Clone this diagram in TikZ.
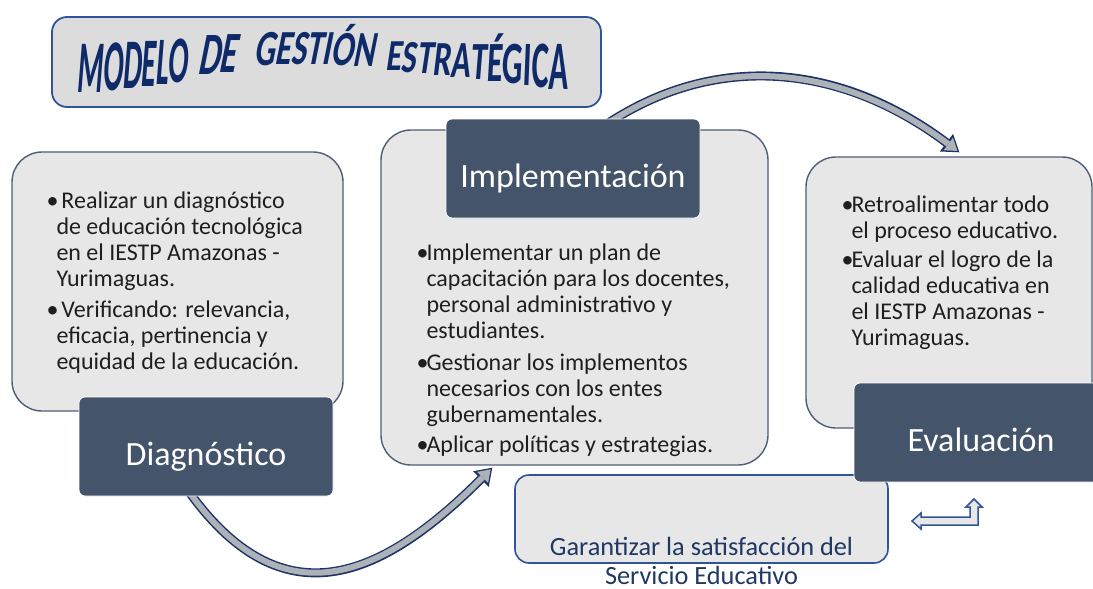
\documentclass[tikz,border=0pt]{standalone}
\usepackage{fontspec}
\setmainfont{Carlito}
\usetikzlibrary{arrows.meta,backgrounds}

\definecolor{headfill}{HTML}{44546A}
\definecolor{boxfill}{HTML}{E7E7E7}
\definecolor{boxline}{HTML}{4F5D75}
\definecolor{titlefill}{HTML}{DCDCDC}
\definecolor{blueline}{HTML}{2F5597}
\definecolor{navy}{HTML}{0F2A68}
\definecolor{goalblue}{HTML}{1F3864}
\definecolor{arcfill}{HTML}{ADB1B8}
\definecolor{arcline}{HTML}{1B3366}

% one bullet line, and a line that carries on the bullet
\newcommand{\bitem}[1]{\hbox{\makebox[10pt][l]{\textbullet}#1}}
\newcommand{\bcont}[1]{\hbox{\hspace*{10pt}#1}}

\begin{document}
\begin{tikzpicture}[x=1pt, y=-1pt,
    card/.style={draw=boxline, line width=1.4pt, fill=boxfill, rounded corners=30pt, inner sep=0pt},
    stage/.style={draw=white, line width=0.8pt, fill=headfill, rounded corners=6pt, text=white,
      font=\fontsize{34}{40}\selectfont, minimum width=254pt, minimum height=99pt,
      inner sep=0pt, text height=68pt, text depth=31pt},
    bullets/.style={anchor=base west, inner sep=0pt, text=black!88, font=\fontsize{24}{26}\selectfont},
    letter/.style={anchor=base west, inner sep=0pt, text=navy, font=\fontsize{40}{40}\selectfont\bfseries},
    arcout/.style={draw=arcline, line width=9pt, -{Triangle[length=16pt, width=22pt, line width=0pt]}},
    arcin/.style={draw=arcfill, line width=6pt, shorten >=2.3pt, -{Triangle[length=11.5pt, width=15.8pt, line width=0pt]}}]
  \useasboundingbox (0,0) rectangle (1093,589);
  \clip (0,0) rectangle (1093,589);

  % title
  \node[draw=blueline, line width=1.8pt, fill=titlefill, rounded corners=15pt,
    minimum width=549pt, minimum height=90pt] (titlebox) at (326.5,62) {};
  \foreach \ch/\px/\py/\ph/\sl/\sx in {
      M/76/92/47/0.08/0.74, O/102/90/46/0.08/0.74, D/122/88/45/0.08/0.74,
      E/140.5/86/44/0.08/0.74, L/155/84/43/0.08/0.74, O/167.5/82/42/0.08/0.74,
      D/197/74/38/0.2/0.85, E/218.4/72/37/0.2/0.85,
      G/253/65/32/0.2/0.82, E/273.9/64/31/0.2/0.82, S/289.9/64/31/0.2/0.82, T/305.4/64/31/0.2/0.82,
      I/321.6/64/31/0.2/0.82, Ó/330.4/65/31/0.2/0.82, N/352.6/66/32/0.2/0.82,
      E/385/70/28/0.15/0.81, S/400.8/72/29/0.15/0.81, T/416.1/73/30/0.15/0.81, R/432.1/75/31/0.12/0.81,
      A/450.3/77/33/0.1/0.81, T/469.9/79/34/0.08/0.81, É/485.9/81/36/0.06/0.81, G/501.7/83/38/0.05/0.81,
      I/522.3/85/40/0.04/0.81, C/531/87/42/0.03/0.81, A/548.1/89/44/0.03/0.81}
    \path (\px,\py) node[xslant=\sl, letter, xscale=\sx, yscale=\ph/25.3] (t\px) {\ch};

  % cards
  \node[card, minimum width=331pt, minimum height=259pt] (diagbox) at (177.5,281.5) {};
  \node[card, minimum width=387pt, minimum height=335pt] (implbox) at (574.5,297.5) {};
  \node[card, minimum width=286pt, minimum height=271pt] (evalbox) at (949,292.5) {};
  \node[draw=blueline, line width=1.6pt, fill=boxfill, rounded corners=14pt, inner sep=0pt,
    minimum width=373pt, minimum height=88pt] (goalbox) at (701.5,519) {};

  % headers
  \node[stage] (diaghead) at (206,446.5) {Diagnóstico};
  \node[stage] (implhead) at (573,168.5) {Implementación};
  \node[stage] (evalhead) at (981,432.5) {Evaluación};

  % texts
  \node[bullets] (diagtext) at ([xshift=35pt, yshift=-57pt]diagbox.north west) {\vtop{%
      \bitem{\hspace{5pt}Realizar un diagnóstico}
      \bcont{de educación tecnológica}
      \bcont{en el IESTP Amazonas -}
      \bcont{Yurimaguas.}
      \vskip5pt
      \bitem{\hspace{5pt}Verificando: relevancia,}
      \bcont{eficacia, pertinencia y}
      \bcont{equidad de la educación.}}};
  \node[bullets] (impltext) at ([xshift=36pt, yshift=-131pt]implbox.north west) {\vtop{%
      \bitem{Implementar un plan de}
      \bcont{capacitación para los docentes,}
      \bcont{personal administrativo y}
      \bcont{estudiantes.}
      \vskip6pt
      \bitem{Gestionar los implementos}
      \bcont{necesarios con los entes}
      \bcont{gubernamentales.}
      \vskip4pt
      \bitem{Aplicar políticas y estrategias.}}};
  \node[bullets] (evaltext) at ([xshift=36pt, yshift=-56pt]evalbox.north west) {\vtop{%
      \bitem{Retroalimentar todo}
      \bcont{el proceso educativo.}
      \vskip3pt
      \bitem{Evaluar el logro de la}
      \bcont{calidad educativa en}
      \bcont{el IESTP Amazonas -}
      \bcont{Yurimaguas.}}};
  \node[anchor=base, inner sep=0pt, text=goalblue, font=\fontsize{26.3}{29}\selectfont]
    (goaltext) at (701.5,555) {\vtop{%
      \hbox to 0pt{\hss Garantizar la satisfacción del\hss}
      \hbox to 0pt{\hss Servicio Educativo\hss}}};

  % return sign
  \draw[draw=blueline, line width=1.5pt, fill=boxfill, line join=miter]
    (912,521) -- (921,513) -- (921,517) -- (970,517) -- (970,507) -- (966,507) -- (974,499)
    -- (982,507) -- (978,507) -- (978,525) -- (921,525) -- (921,529) -- cycle;

  % curved arrows
  \begin{scope}[on background layer]
    \draw[arcout] ([xshift=108pt, yshift=8pt]diaghead.south west)
      .. controls +(95,135) and +(-111,111) .. ([xshift=112pt, yshift=-2pt]implbox.south west);
    \draw[arcin] ([xshift=108pt, yshift=8pt]diaghead.south west)
      .. controls +(95,135) and +(-111,111) .. ([xshift=112pt, yshift=-2pt]implbox.south west);
    \draw[arcout] ([xshift=30pt, yshift=-8pt]implhead.north)
      .. controls +(110,-75) and +(-120,-90) .. ([xshift=154pt, yshift=4pt]evalbox.north west);
    \draw[arcin] ([xshift=30pt, yshift=-8pt]implhead.north)
      .. controls +(110,-75) and +(-120,-90) .. ([xshift=154pt, yshift=4pt]evalbox.north west);
  \end{scope}
\end{tikzpicture}
\end{document}
